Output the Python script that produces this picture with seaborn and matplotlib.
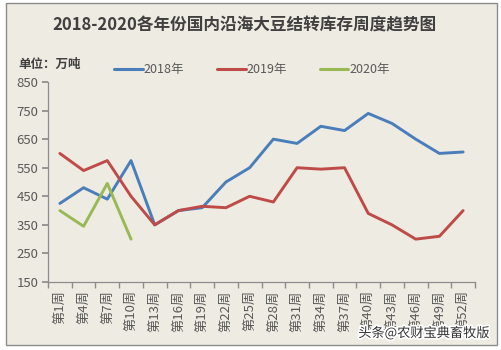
import matplotlib
matplotlib.use("Agg")
import matplotlib.pyplot as plt
import matplotlib.patheffects as pe
import seaborn as sns
import pandas as pd
from matplotlib.patches import Rectangle
from matplotlib.lines import Line2D

weeks = ["第1周", "第4周", "第7周", "第10周", "第13周", "第16周", "第19周", "第22周", "第25周",
         "第28周", "第31周", "第34周", "第37周", "第40周", "第43周", "第46周", "第49周", "第52周"]
v2018 = [425, 480, 440, 575, 350, 400, 410, 500, 550, 650, 635, 695, 680, 740, 705, 650, 600, 605]
v2019 = [600, 540, 575, 450, 350, 400, 415, 410, 450, 430, 550, 545, 550, 390, 350, 300, 310, 400]
v2020 = [400, 345, 495, 300]
series_names = ["2018年", "2019年", "2020年"]
colors = ["#4A7EBB", "#BE4B48", "#98B954"]
yticks = [150, 250, 350, 450, 550, 650, 750, 850]

sns.set_theme(style="white")
plt.rcParams['font.family'] = ['Noto Sans CJK SC', 'DejaVu Sans']

bg = "#EEEBE2"
fig = plt.figure(figsize=(5.01, 3.5), dpi=100)
fig.patch.set_facecolor("white")
fig.patches.append(Rectangle((6/501, 1-345/350), 491/501, 342/350, transform=fig.transFigure,
                             facecolor=bg, edgecolor="#8C8C8C", linewidth=1.0, zorder=-10))

ax = fig.add_axes([48/501, 1-282/350, 427/501, 200/350])
ax.set_zorder(1)
ax.set_facecolor(bg)

rows = []
for name, vals in zip(series_names, [v2018, v2019, v2020]):
    for i, v in enumerate(vals):
        rows.append({"pos": i, "value": v, "year": name})
df = pd.DataFrame(rows)

sns.lineplot(data=df, x="pos", y="value", hue="year", palette=colors, linewidth=2.1,
             ax=ax, legend=False, estimator=None, sort=False)

ax.set_xlim(-0.5, len(weeks) - 0.5)
ax.set_ylim(150, 850)
ax.set_yticks(yticks)
ax.set_yticklabels([str(t) for t in yticks], color="#595959", fontsize=9.5)
ax.set_xticks(range(len(weeks)))
ax.set_xticklabels(weeks, rotation=90, color="#595959", fontsize=9.5)
ax.set_xticks([i - 0.5 for i in range(len(weeks) + 1)], minor=True)
ax.tick_params(axis="x", which="major", length=0, pad=6)
ax.tick_params(axis="x", which="minor", length=4, color="#8C8C8C", direction="out", bottom=True)
ax.tick_params(axis="y", which="major", length=4, color="#8C8C8C", direction="out", left=True, pad=3)
ax.set_xlabel("")
ax.set_ylabel("")
for s in ["top", "right"]:
    ax.spines[s].set_visible(False)
for s in ["left", "bottom"]:
    ax.spines[s].set_color("#8C8C8C")
    ax.spines[s].set_linewidth(0.9)

handles = [Line2D([0], [0], color=c, linewidth=2.2) for c in colors]
leg = fig.legend(handles, series_names, loc="center", bbox_to_anchor=(252/501, 1-70/350), ncol=3,
                 frameon=False, handlelength=2.3, handletextpad=0.1, columnspacing=2.6,
                 fontsize=9)
for t in leg.get_texts():
    t.set_color("#595959")

fig.text(244/501, 1-26/350, "2018-2020各年份国内沿海大豆结转库存周度趋势图", ha="center", va="center",
         fontsize=12, fontweight="bold", color="#404040")
fig.text(18/501, 1-64/350, "单位：万吨", ha="left", va="center", fontsize=9,
         fontweight="bold", color="#404040")
wm = fig.text(490/501, 1-333/350, "头条@农财宝典畜牧版", ha="right", va="center", fontsize=9.5,
              color="#333333", zorder=5)
wm.set_path_effects([pe.withStroke(linewidth=2.5, foreground="white")])

fig.savefig("out.png", dpi=100, facecolor=fig.get_facecolor())
